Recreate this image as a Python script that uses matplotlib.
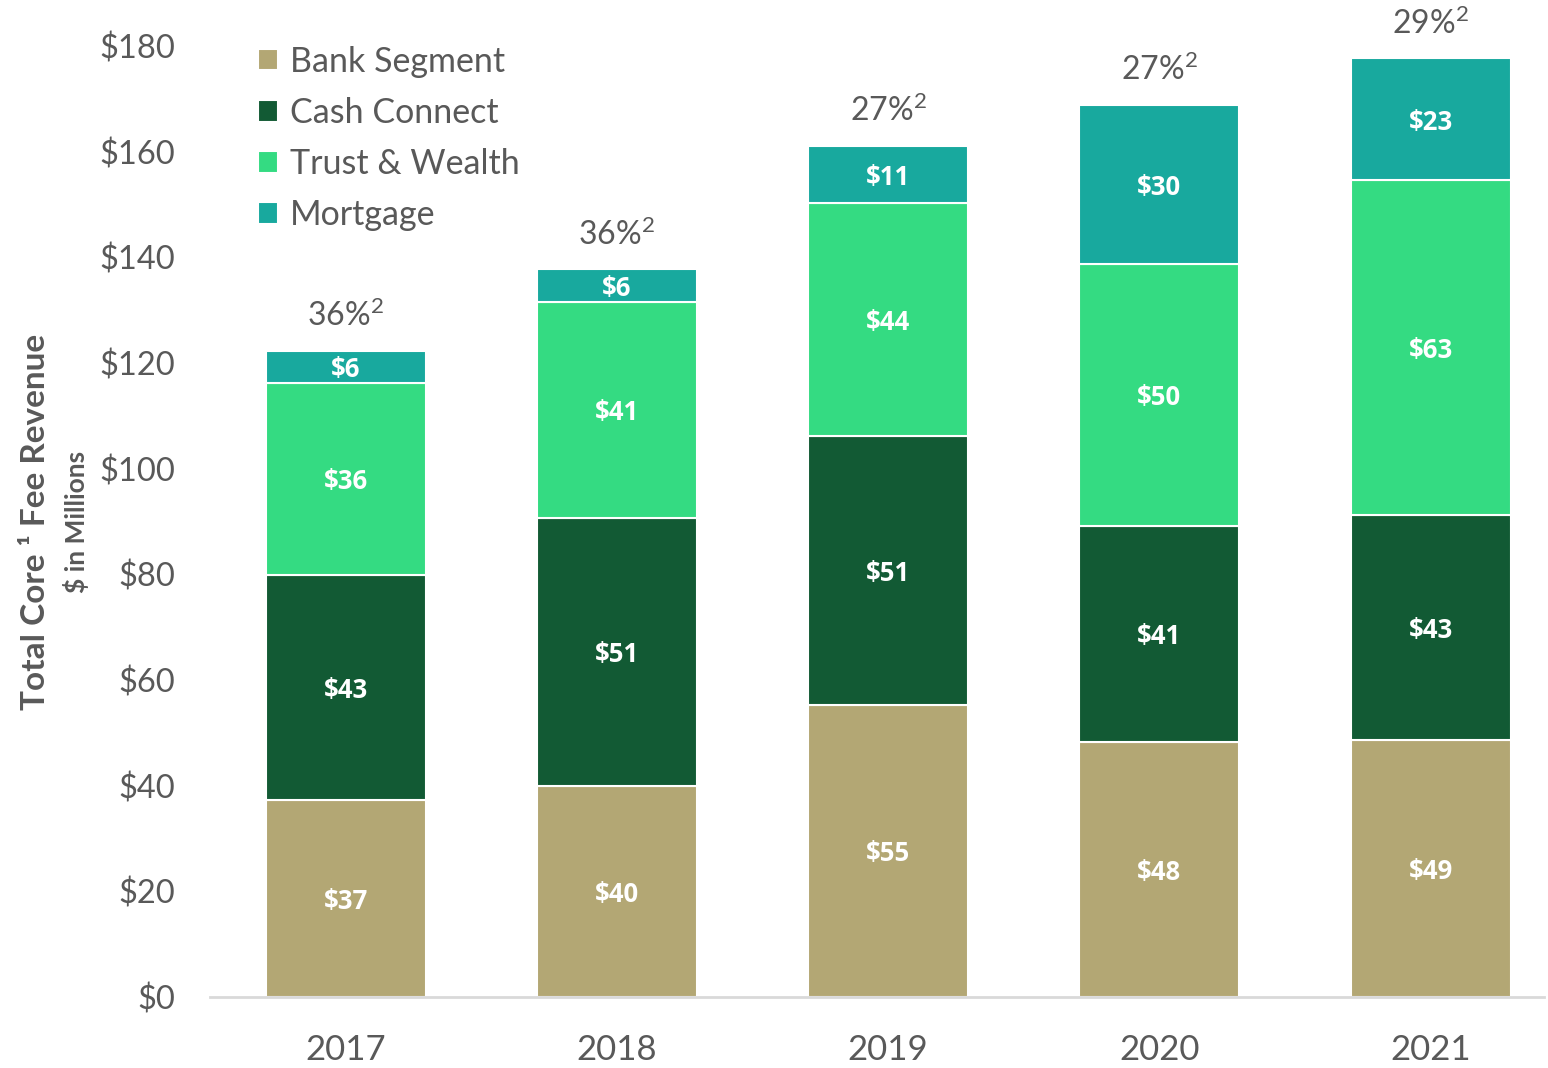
import matplotlib

matplotlib.use("Agg")
import matplotlib.pyplot as plt
import numpy as np

plt.rcParams["font.family"] = ["Lato", "DejaVu Sans"]
plt.rcParams["mathtext.fontset"] = "custom"
plt.rcParams["mathtext.rm"] = "Lato"
plt.rcParams["mathtext.it"] = "Lato"

years = ["2017", "2018", "2019", "2020", "2021"]
segments = ["Bank Segment", "Cash Connect", "Trust & Wealth", "Mortgage"]
bank = [37.3, 39.9, 55.3, 48.3, 48.6]
cash_connect = [42.6, 50.8, 50.9, 40.9, 42.6]
trust_wealth = [36.3, 40.9, 44.1, 49.6, 63.4]
mortgage = [6.1, 6.2, 10.8, 30.1, 23.1]
pct_values = [36, 36, 27, 27, 29]
yticks = [0, 20, 40, 60, 80, 100, 120, 140, 160, 180]

colors = ["#B3A774", "#125A34", "#34DB82", "#18A99E"]
gray = "#595959"

fig = plt.figure(figsize=(15.48, 10.68), dpi=100)
ax = fig.add_axes([0.1357, 0.0665, 0.862, 0.8905])

x = np.arange(len(years))
width = 0.59
bottom = np.zeros(len(years))
for name, vals, col in zip(segments, [bank, cash_connect, trust_wealth, mortgage], colors):
    vals = np.array(vals)
    ax.bar(x, vals, width, bottom=bottom, color=col, edgecolor="white", linewidth=1.5, label=name)
    for xi, b, v in zip(x, bottom, vals):
        ax.text(xi, b + v / 2, f"${round(v)}", ha="center", va="center_baseline", color="white",
                fontsize=18.5, fontweight="bold", family=["Open Sans", "DejaVu Sans"])
    bottom += vals

for xi, tot, p in zip(x, bottom, pct_values):
    ax.annotate(f"{p}%$^{{2}}$", (xi, tot), xytext=(0, 25), textcoords="offset points",
                ha="center", va="center", fontsize=23, color=gray, annotation_clip=False)

ax.set_xlim(-0.5, 4.42)
ax.set_ylim(0, 180)
ax.set_yticks(yticks)
ax.set_yticklabels([f"${t}" for t in yticks])
ax.set_xticks(x)
ax.set_xticklabels(years)
ax.tick_params(axis="y", length=0, pad=25, labelsize=23.5, labelcolor=gray)
ax.tick_params(axis="x", length=0, pad=27, labelsize=25, labelcolor=gray)
for s in ("top", "right", "left"):
    ax.spines[s].set_visible(False)
ax.spines["bottom"].set_color("#D9D9D9")
ax.spines["bottom"].set_linewidth(2)

leg = ax.legend(loc="upper left", bbox_to_anchor=(0.1576, 0.970), bbox_transform=fig.transFigure,
                frameon=False, fontsize=24.5, handlelength=0.6, handleheight=0.6,
                handletextpad=0.35, labelspacing=0.56, borderaxespad=0)
for t in leg.get_texts():
    t.set_color(gray)

fig.text(0.023, 0.511, "Total Core ¹ Fee Revenue", rotation=90, ha="center", va="center",
         fontsize=24, fontweight="bold", color=gray)
fig.text(0.049, 0.511, "$ in Millions", rotation=90, ha="center", va="center",
         fontsize=19, fontweight="bold", color=gray)

fig.savefig("out.png", dpi=100)
